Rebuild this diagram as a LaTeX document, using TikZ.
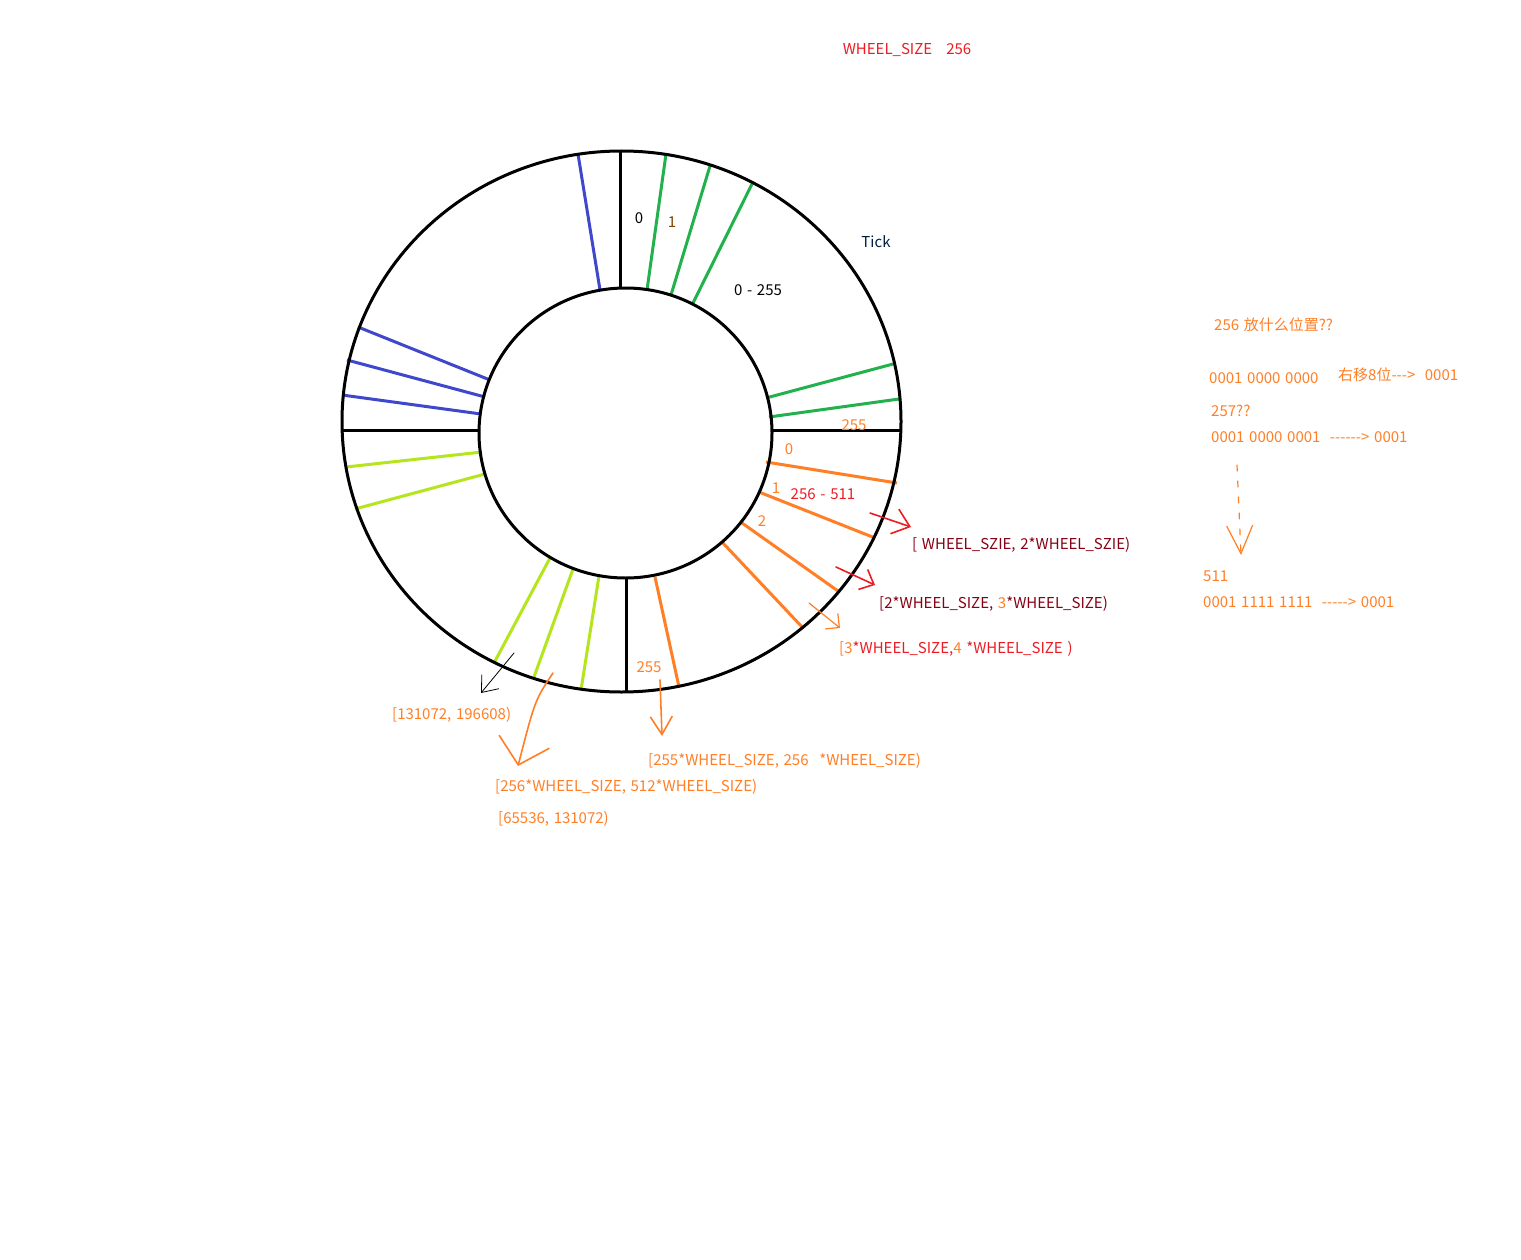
\documentclass[tikz,border=0pt]{standalone}
\usepackage{fontspec}
\newfontfamily\yahei[WordSpace=1.4]{Noto Sans CJK SC}
\usetikzlibrary{arrows.meta, positioning}
\definecolor{pgreen}{RGB}{34,177,76}
\definecolor{pblue}{RGB}{63,72,204}
\definecolor{plime}{RGB}{181,230,29}
\definecolor{porange}{RGB}{255,127,39}
\definecolor{pred}{RGB}{237,28,36}
\definecolor{pmaroon}{RGB}{136,0,21}
\definecolor{pbrown}{RGB}{128,64,0}
\definecolor{pnavy}{RGB}{0,32,64}

\begin{document}
\begin{tikzpicture}[
    x=1pt, y=-1pt,
    ring/.style={draw=black, line width=3pt},
    spoke/.style={line width=3pt},
    lbl/.style={font=\yahei\fontsize{15}{18}\selectfont, inner sep=0pt},
    sketch/.style={line width=1.6pt, line cap=round, line join=round}
]
\fill[white] (0,0) rectangle (1521,1260);
\useasboundingbox (0,0) rectangle (1521,1260);

% slots of the wheel
\foreach \x/\y/\u/\v in {647/290/666/154, 671/295/710/166, 693/303/752/184, 766/398/893/364, 769/417/899/399}
  \draw[spoke, pgreen] (\x,\y) -- (\u,\v);
\foreach \x/\y/\u/\v in {600/290/578/154, 490/380/358/327, 485/397/347/360, 481/414/342/395}
  \draw[spoke, pblue] (\x,\y) -- (\u,\v);
\foreach \x/\y/\u/\v in {482/452/346/467, 485/474/355/509, 550/558/494/663, 573/569/534/677, 599/576/581/690}
  \draw[spoke, plime] (\x,\y) -- (\u,\v);
\foreach \x/\y/\u/\v in {766/462/897/483, 759/492/875/538, 742/523/838/591, 722/542/803/628, 655/577/679/687}
  \draw[spoke, porange] (\x,\y) -- (\u,\v);
\draw[ring] (620,151) -- (620,288);
\draw[ring] (626,578) -- (626,692);
\draw[ring] (342,430) -- (479,430);
\draw[ring] (772,430) -- (901,430);
\draw[ring] (621.5,421.5) ellipse [x radius=279.5pt, y radius=270.5pt];
\draw[ring] (625.5,433) ellipse [x radius=146.5pt, y radius=145pt];

% labels
\node[lbl, pred] (wheel) at (907,50) {WHEEL\_SIZE\hspace{14pt}256};
\node[lbl] (zero) at (639,218) {0};
\node[lbl, pbrown] (one) at (672,222) {1};
\node[lbl, pnavy] (tick) at (876,242) {Tick};
\node[lbl] (range0) at (758,290) {0 - 255};
\node[lbl, porange] (last0) at (854,425) {255};
\node[lbl, porange] (slot0) at (789,449) {0};
\node[lbl, porange] (slot1) at (776,488) {1};
\node[lbl, pred] (range1) at (823,494) {256 - 511};
\node[lbl, porange] (slot2) at (762,521) {2};
\node[lbl, porange] (last1) at (649,667) {255};
\node[lbl, pmaroon, anchor=west] (lvl1) at (912,545) {[ WHEEL\_SZIE, 2*WHEEL\_SZIE)};
\node[lbl, pmaroon, anchor=west] (lvl2) at (879,604) {[2*WHEEL\_SIZE, \textcolor{porange}{3}*WHEEL\_SIZE)};
\node[lbl, pred, anchor=west] (lvl3) at (839,649) {\textcolor{porange}{[3}*WHEEL\_SIZE,\textcolor{porange}{4} *WHEEL\_SIZE )};
\node[lbl, porange, anchor=west] (lvl255) at (648,761) {[255*WHEEL\_SIZE, 256\hspace{6pt} *WHEEL\_SIZE)};
\node[lbl, porange, anchor=west] (lvlb) at (392,715) {[131072, 196608)};
\node[lbl, porange, anchor=west] (lvla) at (495,787) {[256*WHEEL\_SIZE, 512*WHEEL\_SIZE)};
\node[lbl, porange, anchor=west] (lvla2) at (498,819) {[65536, 131072)};

% bit notes
\node[lbl, porange, anchor=west] (q256) at (1214,325) {256 放什么位置??};
\node[lbl, porange, anchor=west] (bin256) at (1209,378) {0001 0000 0000};
\node[lbl, porange, anchor=west] (shift) at (1338,375) {右移8位---> \ 0001};
\node[lbl, porange, anchor=west] (q257) at (1211,411) {257??};
\node[lbl, porange, anchor=west] (bin257) at (1211,437) {0001 0000 0001 \ ------> 0001};
\node[lbl, porange, anchor=west] (n511) at (1203,576) {511};
\node[lbl, porange, anchor=west] (bin511) at (1203,602) {0001 1111 1111 \ -----> 0001};

% hand drawn arrows
\coordinate (a1s) at (870,513);  \coordinate (a1e) at (911,527);
\coordinate (a2s) at (836,567);  \coordinate (a2e) at (875,585);
\coordinate (a3s) at (809,603);  \coordinate (a3e) at (840,628);
\coordinate (a4s) at (514,653);  \coordinate (a4e) at (481,693);
\coordinate (a5s) at (553,673);  \coordinate (a5e) at (518,766);
\coordinate (a6s) at (660,680);  \coordinate (a6e) at (662,736);
\coordinate (a7s) at (1237,465); \coordinate (a7e) at (1241,555);
\draw[sketch, pred, -{Straight Barb[length=16pt, width=26pt]}] (a1s) -- (a1e);
\draw[sketch, pred, -{Straight Barb[length=12pt, width=22pt]}] (a2s) -- (a2e);
\draw[sketch, porange, line width=1.2pt, -{Straight Barb[length=10pt, width=20pt]}] (a3s) -- (a3e);
\draw[sketch, black, line width=0.8pt, -{Straight Barb[length=14pt, width=22pt]}] (a4s) -- (a4e);
\draw[sketch, porange, -{Straight Barb[length=24pt, width=52pt]}] (a5s) .. controls (535,700) .. (a5e);
\draw[sketch, porange, -{Straight Barb[length=18pt, width=22pt]}] (a6s) -- (a6e);
\draw[sketch, porange, line width=1.2pt, dash pattern=on 6pt off 10pt, -{Straight Barb[length=28pt, width=26pt]}] (a7s) -- (a7e);
\end{tikzpicture}
\end{document}
